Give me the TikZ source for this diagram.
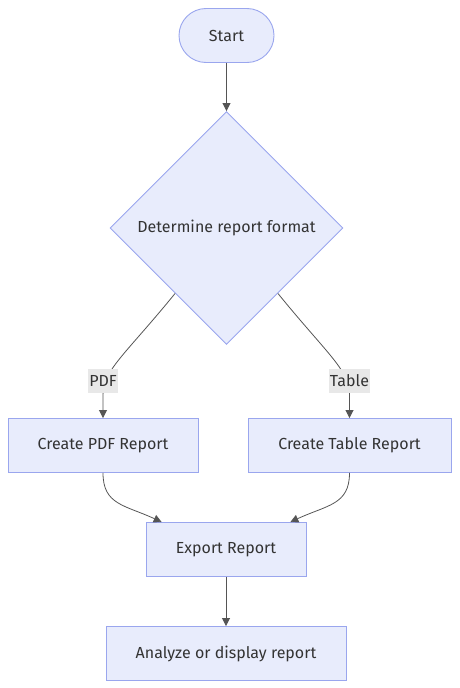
\documentclass[tikz,border=0pt]{standalone}
\usepackage{fontspec}
\setmainfont{Fira Sans}
\usetikzlibrary{shapes.geometric,shapes.misc,arrows.meta,calc}
\definecolor{nodefill}{HTML}{E8ECFC}
\definecolor{nodestroke}{HTML}{9AA6EE}
\definecolor{edgecol}{HTML}{555555}
\definecolor{lblbg}{HTML}{E8E8E8}
\definecolor{txt}{HTML}{333333}
\begin{document}
\begin{tikzpicture}[x=1pt,y=-1pt,
  every node/.style={font=\fontsize{16}{19}\selectfont, text=txt},
  box/.style={draw=nodestroke, fill=nodefill, line width=0.9pt, rectangle, inner sep=0pt},
  startbox/.style={draw=nodestroke, fill=nodefill, line width=0.9pt, rounded rectangle, inner sep=0pt, minimum width=95pt, minimum height=54pt},
  decbox/.style={draw=nodestroke, fill=nodefill, line width=0.9pt, diamond, aspect=1, inner sep=0pt, minimum size=233pt},
  edge/.style={draw=edgecol, line width=0.8pt, -{Triangle[length=8pt,width=8pt]}},
  lbl/.style={fill=lblbg, inner xsep=1pt, inner ysep=0pt, minimum height=24pt, font=\fontsize{16}{19}\selectfont}
]
\useasboundingbox (0,0) rectangle (459,688);
\node[startbox] (start) at (226.5,35.5) {Start};
\node[decbox] (dec) at (226.5,228) {Determine report format};
\node[box, minimum width=190pt, minimum height=54pt] (pdf) at (103,445.5) {Create PDF Report};
\node[box, minimum width=203pt, minimum height=54pt] (tab) at (349.5,445.5) {Create Table Report};
\node[box, minimum width=160pt, minimum height=54pt] (exp) at (226,549.5) {Export Report};
\node[box, minimum width=240pt, minimum height=54pt] (ana) at (226,653.5) {Analyze or display report};

\coordinate (dl) at ($(dec.west)!0.56!(dec.south)$);
\coordinate (dr) at ($(dec.east)!0.56!(dec.south)$);
\coordinate (el) at ($(exp.north west)!0.1!(exp.north east)$);
\coordinate (er) at ($(exp.north west)!0.9!(exp.north east)$);

\draw[edge] (start.south) -- (dec.north);
\draw[edge] (dl) .. controls (125,355) and (103,370) .. (103,395) -- (pdf.north);
\draw[edge] (dr) .. controls (328,355) and (349.5,370) .. (349.5,395) -- (tab.north);
\node[lbl] (lpdf) at (103,381) {PDF};
\node[lbl] (ltab) at (349.5,381) {Table};
\draw[edge] (pdf.south) .. controls (103,505) and (125,505) .. (el);
\draw[edge] (tab.south) .. controls (349.5,505) and (327,505) .. (er);
\draw[edge] (exp.south) -- (ana.north);
\end{tikzpicture}
\end{document}
